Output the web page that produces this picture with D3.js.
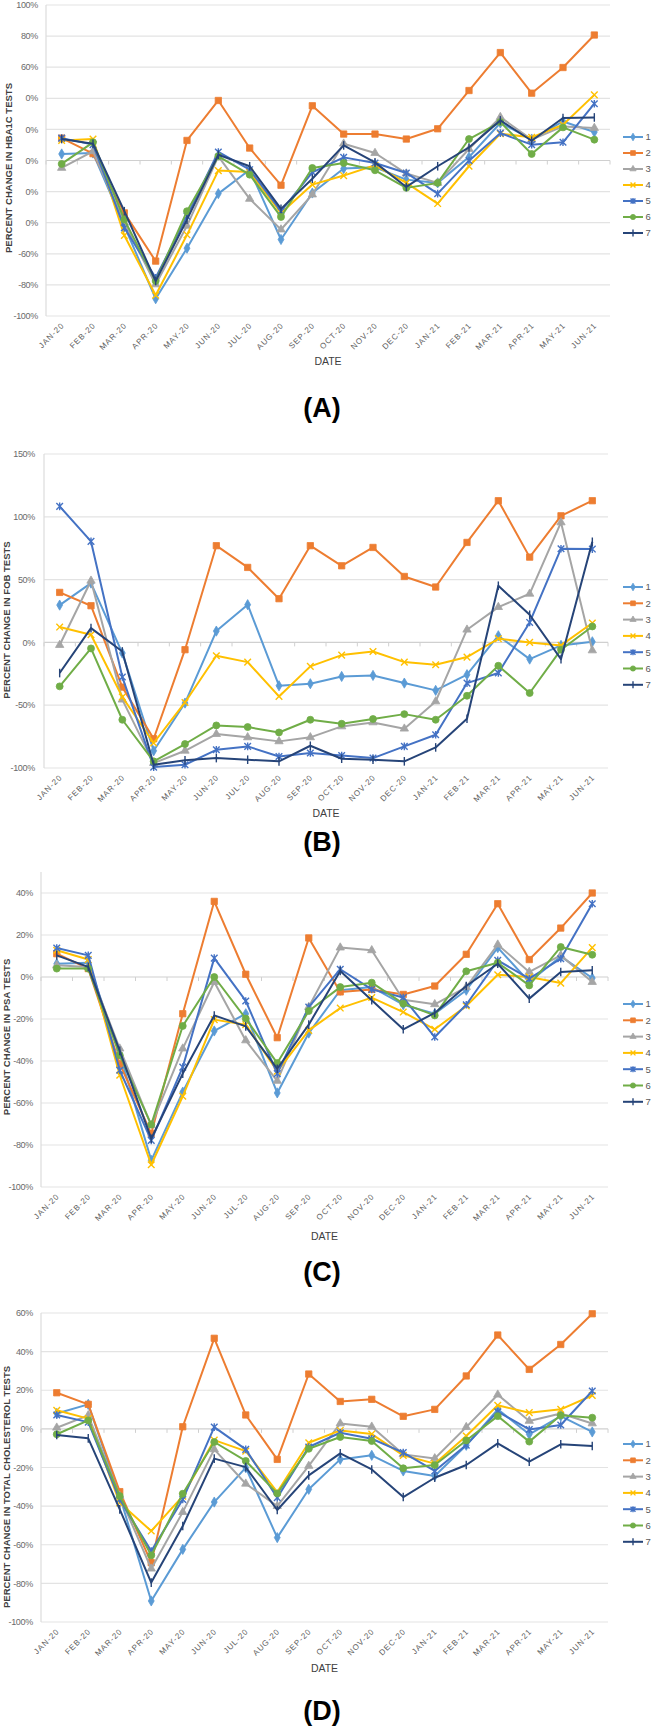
<!DOCTYPE html>
<html><head><meta charset="utf-8">
<script src="https://cdn.jsdelivr.net/npm/d3@7"></script>
<style>
body{margin:0;background:#fff;}
svg{display:block;font-family:"Liberation Sans",Arial,sans-serif;}
</style></head>
<body><svg id="chart" width="651" height="1732"></svg>
<script>
const months = ["JAN-20","FEB-20","MAR-20","APR-20","MAY-20","JUN-20","JUL-20","AUG-20","SEP-20","OCT-20","NOV-20","DEC-20","JAN-21","FEB-21","MAR-21","APR-21","MAY-21","JUN-21"];
const seriesNames = ["1","2","3","4","5","6","7"];
const colors = ["#5B9BD5","#ED7D31","#A5A5A5","#FFC000","#4472C4","#70AD47","#264478"];

// (A) HbA1c
const hba1c1 = [4.2,4.8,-42,-88.9,-56.4,-21.3,-5.9,-50.8,-20.9,-5.2,-4.4,-12.3,-14.4,2.2,24.1,13.8,25.1,18.3];
const hba1c2 = [14.4,4.4,-33.7,-64.7,12.9,38.6,8.0,-15.9,35.2,17.0,17.0,13.8,20.4,45.0,69.4,43.3,59.8,80.7];
const hba1c3 = [-4.8,5.9,-40,-79.7,-42,2.7,-24.7,-44.4,-21.9,10.8,4.8,-8.4,-14.4,7.4,27.9,13.4,21.9,20.9];
const hba1c4 = [12.9,13.8,-48.2,-86.7,-47.8,-6.5,-7.4,-33.7,-15.5,-9.7,-3.1,-14.4,-27.7,-3.7,17.2,14.9,23.0,42.2];
const hba1c5 = [14.4,10.2,-43.3,-75.4,-35.8,5.5,-5.9,-32.6,-7.6,2.0,-1.6,-8.0,-21.3,-0.1,17.6,10.2,11.7,36.5];
const hba1c6 = [-2.2,11.7,-38.0,-77.5,-32.6,2.7,-9.1,-36.3,-4.8,-1.6,-6.3,-17.6,-14.4,13.8,24.7,4.2,21.3,13.4];
const hba1c7 = [13.8,10.8,-32.6,-77.5,-38.0,3.7,-3.7,-31.1,-11.7,9.7,-1.2,-17.0,-3.7,8.4,25.8,12.7,27.3,27.7];

// (B) FOB
const fob1 = [29.7,47.2,-8.5,-86.3,-48.3,9.0,30.0,-34.5,-32.9,-27.1,-26.3,-32.4,-38.2,-25.7,5.3,-13.3,-2.4,0.5];
const fob2 = [39.8,29.2,-35.6,-76.7,-5.8,77.0,59.7,34.8,77.0,61.0,75.6,52.5,44.1,79.6,112.8,67.9,100.8,112.8];
const fob3 = [-2.1,49.1,-45.6,-96.1,-86.3,-73.0,-75.6,-78.8,-75.6,-66.9,-63.7,-68.7,-47.0,10.1,28.1,38.7,95.5,-6.4];
const fob4 = [12.2,6.1,-43.5,-80.1,-47.8,-10.6,-15.7,-43.0,-19.1,-10.1,-7.2,-15.7,-17.8,-11.7,2.9,0,-2.4,15.4];
const fob5 = [108.3,80.4,-27.6,-99.3,-97.4,-85.5,-82.8,-90.8,-88.1,-90.0,-92.1,-82.8,-73.5,-32.4,-24.4,15.9,74.6,74.3];
const fob6 = [-35.0,-4.8,-61.6,-94.7,-80.9,-66.1,-67.4,-71.7,-61.6,-64.8,-61.0,-57.1,-61.6,-42.5,-18.6,-40.3,-5.8,12.7];
const fob7 = [-24.4,11.4,-7.2,-97.4,-93.9,-92.1,-93.4,-94.7,-82.3,-92.6,-93.4,-94.7,-83.6,-60.8,45.1,22.0,-13.3,80.1];

// (C) PSA
const psa1 = [6.3,6.8,-36.5,-87.3,-54.8,-25.7,-17.5,-55.2,-26.7,-6.3,-4.8,-13.2,-17.5,-6.3,14.0,-2.4,9.8,-0.5];
const psa2 = [11.1,4.0,-41.3,-74.6,-17.5,36.0,1.3,-28.9,18.6,-7.1,-5.9,-8.3,-4.3,10.8,34.9,8.3,23.3,40.0];
const psa3 = [5.6,4.8,-34.1,-70.6,-34.1,-2.4,-30.2,-49.5,-14.3,14.0,12.7,-10.8,-13.0,-4.8,15.4,2.4,10.3,-2.4];
const psa4 = [12.7,8.3,-46.8,-89.4,-56.8,-20.3,-22.7,-44.9,-25.4,-14.8,-9.8,-16.7,-24.9,-13.8,1.1,0,-2.9,14.0];
const psa5 = [13.8,10.3,-44.4,-77.8,-42.9,9.0,-11.4,-46.0,-14.3,3.7,-5.9,-9.8,-28.6,-13.2,7.9,-0.8,8.7,34.9];
const psa6 = [4.0,4.0,-37.3,-70.3,-23.3,0,-19.8,-41.0,-16.2,-4.8,-2.7,-12.7,-18.3,2.7,6.8,-4.0,14.3,10.6];
const psa7 = [10.3,4.8,-35.2,-77.0,-46.0,-18.3,-23.5,-43.7,-22.7,2.9,-11.1,-24.9,-17.1,-4.3,6.3,-10.3,2.4,3.2];

// (D) Total cholesterol
const chol1 = [8.0,12.7,-34.8,-89.1,-62.4,-37.9,-20.1,-56.3,-31.3,-15.8,-13.7,-21.8,-24.4,-8.5,10.1,-2.8,6.6,-1.6];
const chol2 = [18.7,12.7,-32.5,-69.3,1.1,46.9,7.2,-15.8,28.4,14.2,15.3,6.5,10.1,27.4,48.6,30.8,43.7,59.6];
const chol3 = [0.6,7.0,-34.8,-72.4,-43.1,-10.6,-28.4,-40.0,-19.2,2.8,1.1,-13.2,-15.3,0.9,17.7,4.1,8.0,2.8];
const chol4 = [9.6,5.3,-38.3,-52.9,-34.8,-5.8,-11.5,-32.7,-7.2,-0.8,-2.7,-13.7,-18.0,-3.7,12.2,8.4,10.1,17.3];
const chol5 = [7.2,3.5,-36.6,-63.3,-36.6,0.9,-10.6,-35.6,-9.4,-2.0,-5.1,-12.3,-21.8,-8.4,8.9,-0.3,2.0,19.6];
const chol6 = [-2.8,4.4,-34.8,-65.5,-33.6,-6.8,-16.6,-33.4,-10.3,-4.2,-6.3,-20.4,-18.7,-6.0,6.6,-6.6,7.0,5.8];
const chol7 = [-3.2,-4.9,-41.7,-79.6,-50.3,-15.4,-19.8,-42.0,-24.1,-12.7,-21.0,-35.3,-25.3,-18.7,-7.5,-17.0,-8.0,-8.9];

const ticksA = [100,80,60,40,20,0,-20,-40,-60,-80,-100];
const tickLabelsA = ["100%","80%","60%","0%","0%","0%","0%","0%","-60%","-80%","-100%"];
const ticksB = [150,100,50,0,-50,-100];
const tickLabelsB = ["150%","100%","50%","0%","-50%","-100%"];
const ticksC = [40,20,0,-20,-40,-60,-80,-100];
const tickLabelsC = ["40%","20%","0%","-20%","-40%","-60%","-80%","-100%"];
const ticksD = [60,40,20,0,-20,-40,-60,-80,-100];
const tickLabelsD = ["60%","40%","20%","0%","-20%","-40%","-60%","-80%","-100%"];

const panels = [
  {letter:"(A)", ytitle:"PERCENT CHANGE IN HBA1C TESTS", series:[hba1c1,hba1c2,hba1c3,hba1c4,hba1c5,hba1c6,hba1c7],
   domain:[-100,100], ticks:ticksA, labels:tickLabelsA, top:5, bottom:316, left:46, right:610,
   titleX:9, titleY:168, dateY:361, letterY:407, legY:137, legStep:16, tickEnd:38},
  {letter:"(B)", ytitle:"PERCENT CHANGE IN FOB TESTS", series:[fob1,fob2,fob3,fob4,fob5,fob6,fob7],
   domain:[-100,150], ticks:ticksB, labels:tickLabelsB, top:454, bottom:768, left:44, right:608,
   titleX:7, titleY:620, dateY:813, letterY:841, legY:587, legStep:16.3, tickEnd:35},
  {letter:"(C)", ytitle:"PERCENT CHANGE IN PSA TESTS", series:[psa1,psa2,psa3,psa4,psa5,psa6,psa7],
   domain:[-100,50], ticks:ticksC, labels:tickLabelsC, top:872, bottom:1187, left:41, right:608,
   titleX:7, titleY:1037, dateY:1236, letterY:1271, legY:1004, legStep:16.3, tickEnd:33},
  {letter:"(D)", ytitle:"PERCENT CHANGE IN TOTAL CHOLESTEROL TESTS", series:[chol1,chol2,chol3,chol4,chol5,chol6,chol7],
   domain:[-100,60], ticks:ticksD, labels:tickLabelsD, top:1313, bottom:1622, left:41, right:608,
   titleX:7, titleY:1487, dateY:1668, letterY:1710, legY:1444, legStep:16.3, tickEnd:33}
];

const svg = d3.select("#chart");

function markerPath(i, k){
  const s = 3.3*k;
  switch(i){
    case 0: return d3.symbol(d3.symbolDiamond, 30*k*k)();
    case 1: return d3.symbol(d3.symbolSquare, 40*k*k)();
    case 2: return d3.symbol(d3.symbolTriangle, 30*k*k)();
    case 3: return `M${-s},${-s}L${s},${s}M${-s},${s}L${s},${-s}`;
    case 4: return `M${-s},${-s}L${s},${s}M${-s},${s}L${s},${-s}M0,${-s-0.5}L0,${s+0.5}`;
    case 5: return d3.symbol(d3.symbolCircle, 38*k*k)();
    case 6: return `M0,${-s-1}L0,${s+1}`;
  }
}
function drawMarker(g, i, x, y, k){
  const c = colors[i];
  const stroked = (i===3||i===4||i===6);
  g.append("path").attr("d", markerPath(i, k)).attr("transform",`translate(${x},${y})`)
    .attr("fill", stroked ? "none" : c).attr("stroke", c).attr("stroke-width", stroked?1.4:0.8);
}

panels.forEach(p=>{
  const g = svg.append("g");
  const x = d3.scaleBand().domain(months).range([p.left,p.right]);
  const y = d3.scaleLinear().domain(p.domain).range([p.bottom,p.top]);

  g.selectAll(".grid").data(p.ticks).join("line")
    .attr("x1",p.left).attr("x2",p.right).attr("y1",d=>y(d)).attr("y2",d=>y(d))
    .attr("stroke",d=>d===0?"#d0d0d0":"#e3e3e3").attr("stroke-width",1.2);
  g.append("line").attr("x1",p.left).attr("x2",p.left).attr("y1",p.top).attr("y2",p.bottom)
    .attr("stroke","#dcdcdc").attr("stroke-width",1.2);
  const bounds = months.map((m)=>x(m)).concat([p.right]);
  g.selectAll(".zt").data(bounds).join("line")
    .attr("x1",d=>d).attr("x2",d=>d).attr("y1",y(0)).attr("y2",y(0)+4)
    .attr("stroke","#d0d0d0").attr("stroke-width",1);

  g.selectAll(".yl").data(p.ticks).join("text")
    .attr("x",p.tickEnd).attr("y",d=>y(d)).attr("dy","0.35em")
    .attr("text-anchor","end").attr("font-size",9).attr("fill","#6a6a6a")
    .attr("letter-spacing","-0.3")
    .text((d,i)=>p.labels[i]);

  g.selectAll(".xl").data(months).join("text")
    .attr("transform",d=>`translate(${x(d)+x.bandwidth()/2+3},${p.bottom+10}) rotate(-45)`)
    .attr("text-anchor","end").attr("font-size",8).attr("fill","#5f5f5f")
    .attr("letter-spacing","0.9")
    .text(d=>d);

  g.append("text").attr("transform",`translate(${p.titleX},${p.titleY}) rotate(-90)`)
    .attr("text-anchor","middle").attr("dy","0.35em").attr("font-size",9.5).attr("font-weight","bold")
    .attr("fill","#404040").text(p.ytitle);
  g.append("text").attr("x",(p.left+p.right)/2).attr("y",p.dateY).attr("dy","0.35em")
    .attr("text-anchor","middle").attr("font-size",10.5).attr("fill","#404040").text("DATE");
  g.append("text").attr("x",322).attr("y",p.letterY).attr("dy","0.36em")
    .attr("text-anchor","middle").attr("font-size",27).attr("font-weight","bold")
    .attr("fill","#000").text(p.letter);

  const line = d3.line().x((d,i)=>x(months[i])+x.bandwidth()/2).y(d=>y(d));
  p.series.forEach((s,si)=>{
    const sg = g.append("g");
    sg.append("path").datum(s).attr("d",line).attr("fill","none")
      .attr("stroke",colors[si]).attr("stroke-width",2).attr("stroke-linejoin","round");
    s.forEach((v,i)=>drawMarker(sg, si, x(months[i])+x.bandwidth()/2, y(v), 1));
  });

  seriesNames.forEach((n,i)=>{
    const ly = p.legY + i*p.legStep;
    const lg = g.append("g");
    lg.append("line").attr("x1",623).attr("x2",643).attr("y1",ly).attr("y2",ly)
      .attr("stroke",colors[i]).attr("stroke-width",2);
    drawMarker(lg, i, 633, ly, 0.75);
    lg.append("text").attr("x",645.5).attr("y",ly).attr("dy","0.35em")
      .attr("font-size",9.5).attr("fill","#595959").text(n);
  });
});
</script>
</body></html>
